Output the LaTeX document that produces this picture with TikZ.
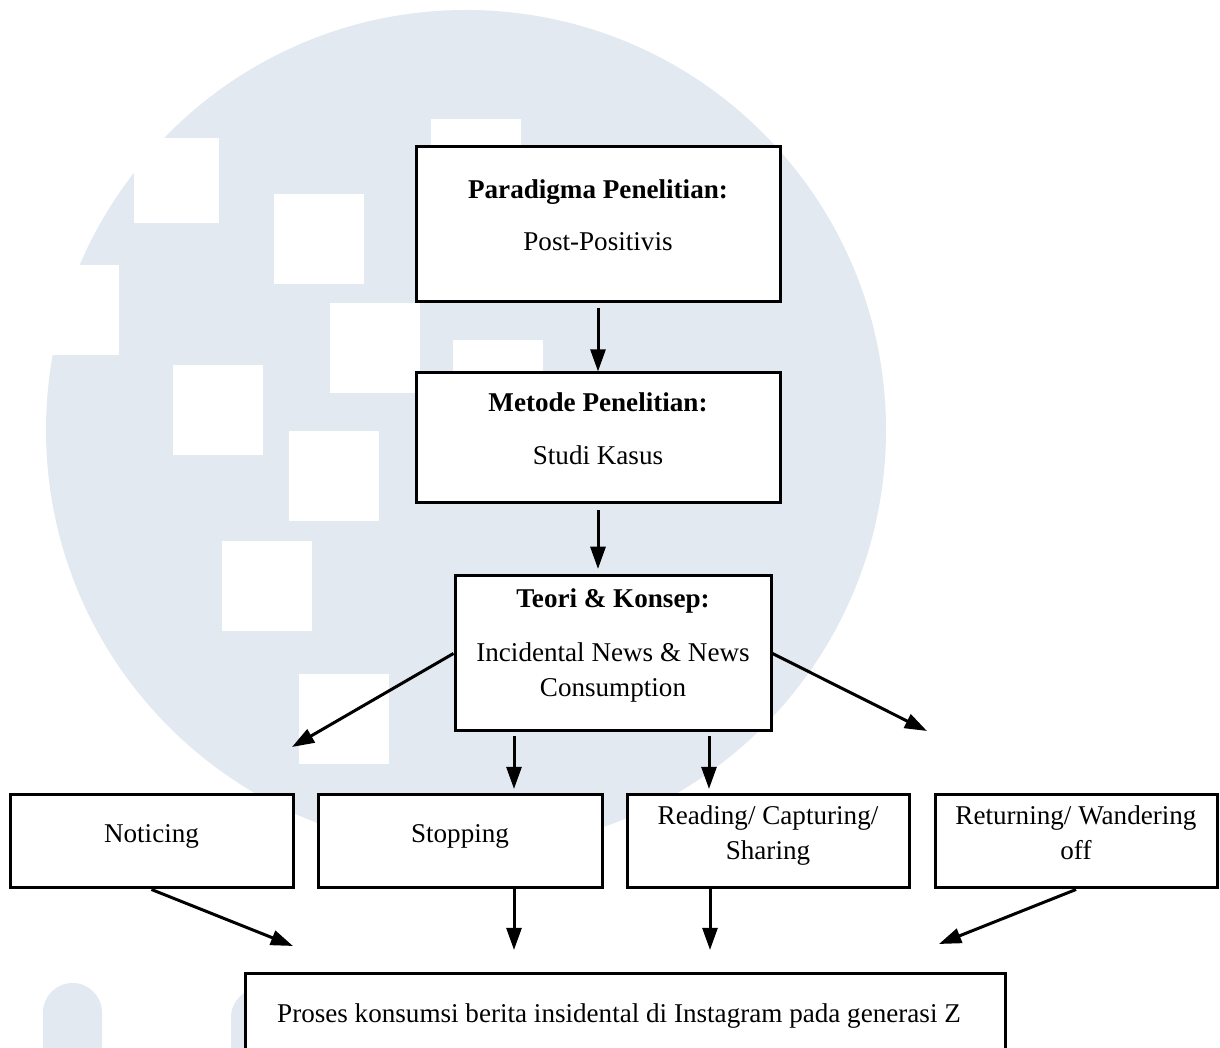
\documentclass[tikz,border=0pt]{standalone}
\usepackage{fontspec}
\setmainfont{Liberation Serif}
\usetikzlibrary{arrows.meta,fit}
\definecolor{wmgray}{RGB}{227,233,240}
\tikzset{
	box/.style={draw,line width=1.35pt,fill=white,inner sep=0pt},
	txt/.style={anchor=base,inner sep=0pt,align=center,font=\fontsize{12.2}{15.75}\selectfont},
	btxt/.style={txt,font=\fontsize{12.2}{15.75}\selectfont\bfseries}
}
\begin{document}
\begin{tikzpicture}[>={Triangle[width=6.75pt,length=10pt]},x=0.45pt,y=-0.45pt,line width=1.35pt]
		\useasboundingbox (0,0) rectangle (1220,1048);
		\clip (0,0) rectangle (1220,1048);
		% watermark
		\fill[wmgray] (466,430) circle (420);
		\foreach \sx/\sy/\ss in {134/138/85, 274/194/90, 29/265/90, 330/303/90, 173/365/90, 289/431/90, 222/541/90, 299/674/90, 431/119/90, 453/340/90}
			\fill[white] (\sx,\sy) rectangle ++(\ss,\ss);
		\fill[wmgray] (43,1060) -- (43,1012.5) arc[start angle=180,end angle=360,radius=29.5] -- (102,1060) -- cycle;
		\fill[wmgray] (231,1060) -- (231,1017.5) arc[start angle=180,end angle=360,radius=29.5] -- (290,1060) -- cycle;
		% boxes
		\node[box,fit={(416,147) (780,302)}] (paradigma) {};
		\node[box,fit={(416,373) (780,503)}] (metode) {};
		\node[box,fit={(455,576) (771,731)}] (teori) {};
		\node[box,fit={(10,795) (293,888)}] (noticing) {};
		\node[box,fit={(318,795) (602,888)}] (stopping) {};
		\node[box,fit={(627,795) (909,888)}] (reading) {};
		\node[box,fit={(935,795) (1217,888)}] (returning) {};
		\node[box,fit={(245,974) (1005,1080)}] (proses) {};
		% texts (multi-line ones sit on their last line)
		\node[btxt] (paradigma-t) at (598,199) {Paradigma Penelitian:};
		\node[txt] (paradigma-s) at (598,251) {Post-Positivis};
		\node[btxt] (metode-t) at (598,412) {Metode Penelitian:};
		\node[txt] (metode-s) at (598,465) {Studi Kasus};
		\node[btxt] (teori-t) at (613,608) {Teori \& Konsep:};
		\node[txt] (teori-s) at (613,697) {Incidental News \& News\\Consumption};
		\node[txt] (noticing-t) at (151.5,843) {Noticing};
		\node[txt] (stopping-t) at (460,843) {Stopping};
		\node[txt] (reading-t) at (768,860) {Reading/ Capturing/\\Sharing};
		\node[txt] (returning-t) at (1076,860) {Returning/ Wandering\\off};
		\node[txt] (proses-t) at (619,1023) {Proses konsumsi berita insidental di Instagram pada generasi Z};
		% free arrow ends
		\coordinate (t-left) at (292,747);
		\coordinate (t-right) at (927,731);
		\coordinate (t-stop) at (514,789);
		\coordinate (t-read) at (709,789);
		\coordinate (p-notice) at (293,946);
		\coordinate (p-stop) at (514,950);
		\coordinate (p-read) at (710,950);
		\coordinate (p-return) at (939,944);
		% arrows
		\draw[->,shorten <=2pt] (paradigma) -- (metode);
		\draw[->,shorten <=2.5pt,shorten >=2.5pt] (metode.south) -- (metode.south |- teori.north);
		\draw[->] (teori.west) -- (t-left);
		\draw[->] (teori.east) -- (t-right);
		\draw[->,shorten <=1.5pt] (teori.south -| t-stop) -- (t-stop);
		\draw[->,shorten <=1.5pt] (teori.south -| t-read) -- (t-read);
		\draw[->] (noticing.south) -- (p-notice);
		\draw[->] (stopping.south -| p-stop) -- (p-stop);
		\draw[->] (reading.south -| p-read) -- (p-read);
		\draw[->] (returning.south) -- (p-return);
\end{tikzpicture}
\end{document}
